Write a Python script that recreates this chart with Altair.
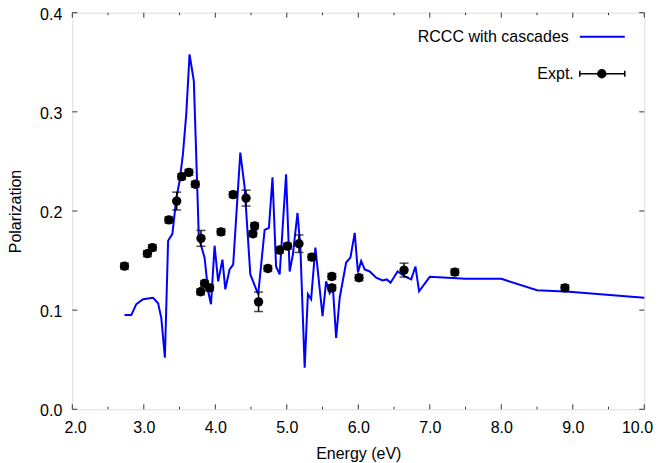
import altair as alt
import pandas as pd

# Theory curve (RCCC with cascades)
energy_line = [2.73, 2.825, 2.895, 2.99, 3.13, 3.2, 3.245, 3.295, 3.34, 3.40,
               3.455, 3.50, 3.547, 3.594, 3.64, 3.70, 3.77, 3.85, 3.90, 3.94,
               3.99, 4.04, 4.10, 4.14, 4.20, 4.25, 4.35, 4.41, 4.49, 4.60,
               4.69, 4.75, 4.80, 4.85, 4.90, 4.99, 5.04, 5.085, 5.15, 5.19,
               5.25, 5.295, 5.34, 5.40, 5.50, 5.55, 5.60, 5.645, 5.69, 5.74,
               5.83, 5.89, 5.95, 5.995, 6.04, 6.09, 6.16, 6.25, 6.34, 6.40,
               6.45, 6.55, 6.65, 6.74, 6.80, 6.85, 7.0, 7.5, 8.0, 8.5,
               8.95, 10.0]
pol_line = [0.095, 0.095, 0.106, 0.111, 0.1125, 0.107, 0.092, 0.052, 0.170, 0.177,
            0.213, 0.230, 0.257, 0.298, 0.358, 0.331, 0.173, 0.153, 0.119, 0.106,
            0.165, 0.129, 0.151, 0.121, 0.141, 0.146, 0.259, 0.224, 0.136, 0.116,
            0.181, 0.183, 0.234, 0.144, 0.136, 0.237, 0.139, 0.156, 0.198, 0.163,
            0.042, 0.116, 0.111, 0.163, 0.094, 0.129, 0.117, 0.1225, 0.072, 0.1125,
            0.148, 0.153, 0.178, 0.138, 0.1495, 0.141, 0.139, 0.1327, 0.130, 0.131,
            0.1276, 0.139, 0.134, 0.131, 0.144, 0.119, 0.1336, 0.1316, 0.1316, 0.120,
            0.1185, 0.1125]

# Experimental points
energy_pts = [2.73, 3.05, 3.12, 3.35, 3.46, 3.53, 3.63, 3.72, 3.80, 3.795,
              3.85, 3.92, 4.08, 4.25, 4.43, 4.525, 4.55, 4.605, 4.735, 4.90,
              5.01, 5.17, 5.35, 5.63, 5.63, 6.01, 6.64, 7.35, 8.89]
pol_pts = [0.1444, 0.157, 0.163, 0.191, 0.210, 0.2347, 0.239, 0.227, 0.1724, 0.1185,
           0.127, 0.1225, 0.179, 0.2165, 0.213, 0.177, 0.185, 0.1084, 0.142, 0.1606,
           0.1646, 0.167, 0.1535, 0.134, 0.1225, 0.1327, 0.1404, 0.1384, 0.1225]
pol_err = [0.003, 0.003, 0.003, 0.003, 0.009, 0.003, 0.003, 0.003, 0.008, 0.003,
           0.003, 0.003, 0.003, 0.003, 0.008, 0.003, 0.003, 0.0098, 0.003, 0.003,
           0.003, 0.0088, 0.003, 0.003, 0.003, 0.003, 0.007, 0.003, 0.003]

x_major = [2.0, 3.0, 4.0, 5.0, 6.0, 7.0, 8.0, 9.0, 10.0]
x_minor = [2.5, 3.5, 4.5, 5.5, 6.5, 7.5, 8.5, 9.5]
y_major = [0.0, 0.1, 0.2, 0.3, 0.4]

legend_labels = ["RCCC with cascades", "Expt."]

W, H = 572, 396.6
FONT = "Liberation Sans"
TICK_FS = 16
TITLE_FS = 16

line_df = pd.DataFrame({"E": energy_line, "P": pol_line})
pts_df = pd.DataFrame({"E": energy_pts, "P": pol_pts, "err": pol_err})
pts_df["lo"] = pts_df["P"] - pts_df["err"]
pts_df["hi"] = pts_df["P"] + pts_df["err"]

xs = alt.Scale(domain=[2, 10], nice=False)
ys = alt.Scale(domain=[0, 0.4], nice=False)

x_axis = alt.Axis(values=x_major, format=".1f", tickSize=0, domain=False, grid=False,
                  labelFont=FONT, labelFontSize=TICK_FS, labelColor="black", labelPadding=10,
                  titleFont=FONT, titleFontSize=TITLE_FS, titleFontWeight="normal",
                  titleColor="black", titlePadding=10, labelFlush=True, labelFlushOffset=8.3)
y_axis = alt.Axis(values=y_major, format=".1f", tickSize=0, domain=False, grid=False,
                  labelFont=FONT, labelFontSize=TICK_FS, labelColor="black", labelPadding=10.5,
                  labelOffset=1.5,
                  titleFont=FONT, titleFontSize=TITLE_FS, titleFontWeight="normal",
                  titleColor="black", titlePadding=16.5, labelFlush=False)

line = alt.Chart(line_df).mark_line(color="#0000ff", strokeWidth=2).encode(
    x=alt.X("E:Q", scale=xs, axis=x_axis, title="Energy (eV)"),
    y=alt.Y("P:Q", scale=ys, axis=y_axis, title="Polarization"),
    order="E:Q",
)

err_rule = alt.Chart(pts_df).mark_rule(color="black", strokeWidth=1.5).encode(
    x="E:Q", y="lo:Q", y2="hi:Q")
cap_lo = alt.Chart(pts_df).mark_tick(color="black", orient="horizontal", size=9,
                                     thickness=1.5).encode(x="E:Q", y="lo:Q")
cap_hi = alt.Chart(pts_df).mark_tick(color="black", orient="horizontal", size=9,
                                     thickness=1.5).encode(x="E:Q", y="hi:Q")
points = alt.Chart(pts_df).mark_circle(color="black", opacity=1, size=88).encode(
    x="E:Q", y="P:Q")

# inward ticks
xmaj_df = pd.DataFrame({"v": x_major})
xmin_df = pd.DataFrame({"v": x_minor})
ymaj_df = pd.DataFrame({"v": y_major})

def xticks(df, length):
    b = alt.Chart(df).mark_rule(color="#333333", strokeWidth=1).encode(
        x=alt.X("v:Q", scale=xs), y=alt.value(H), y2=alt.value(H - length))
    t = alt.Chart(df).mark_rule(color="#333333", strokeWidth=1).encode(
        x=alt.X("v:Q", scale=xs), y=alt.value(0), y2=alt.value(length))
    return b + t

def yticks(df, length):
    l = alt.Chart(df).mark_rule(color="#333333", strokeWidth=1).encode(
        y=alt.Y("v:Q", scale=ys), x=alt.value(0), x2=alt.value(length))
    r = alt.Chart(df).mark_rule(color="#333333", strokeWidth=1).encode(
        y=alt.Y("v:Q", scale=ys), x=alt.value(W), x2=alt.value(W - length))
    return l + r

ticks = xticks(xmaj_df, 5) + xticks(xmin_df, 2.5) + yticks(ymaj_df, 5)

# legend
leg_df = pd.DataFrame({"label": legend_labels})
leg_text1 = alt.Chart(leg_df.iloc[[0]]).mark_text(
    align="right", baseline="middle", font=FONT, fontSize=16, color="black").encode(
    text="label:N", x=alt.value(496.5), y=alt.value(24))
leg_text2 = alt.Chart(leg_df.iloc[[1]]).mark_text(
    align="right", baseline="middle", font=FONT, fontSize=16, color="black").encode(
    text="label:N", x=alt.value(501.5), y=alt.value(61))
leg_line = alt.Chart(leg_df.iloc[[0]]).mark_rule(color="#0000ff", strokeWidth=2).encode(
    x=alt.value(507.5), x2=alt.value(552.5), y=alt.value(24))
leg_bar = alt.Chart(leg_df.iloc[[1]]).mark_rule(color="black", strokeWidth=1.5).encode(
    x=alt.value(507.5), x2=alt.value(552.5), y=alt.value(61))
leg_cap1 = alt.Chart(leg_df.iloc[[1]]).mark_rule(color="black", strokeWidth=1.5).encode(
    x=alt.value(507.5), y=alt.value(58), y2=alt.value(64))
leg_cap2 = alt.Chart(leg_df.iloc[[1]]).mark_rule(color="black", strokeWidth=1.5).encode(
    x=alt.value(552.5), y=alt.value(58), y2=alt.value(64))
leg_dot = alt.Chart(leg_df.iloc[[1]]).mark_circle(color="black", opacity=1, size=88).encode(
    x=alt.value(529.5), y=alt.value(61))

legend = leg_text1 + leg_text2 + leg_line + leg_bar + leg_cap1 + leg_cap2 + leg_dot

chart = alt.layer(line, err_rule, cap_lo, cap_hi, points, ticks, legend).properties(
    width=W, height=H,
    autosize=alt.AutoSizeParams(type="none"),
    padding={"left": 64.3, "top": 4.7, "right": 8.6, "bottom": 54},
).configure_view(stroke="#333333", strokeWidth=1.3).configure(background="white")

chart.save("out.html", embed_options={"renderer": "svg", "actions": False})
